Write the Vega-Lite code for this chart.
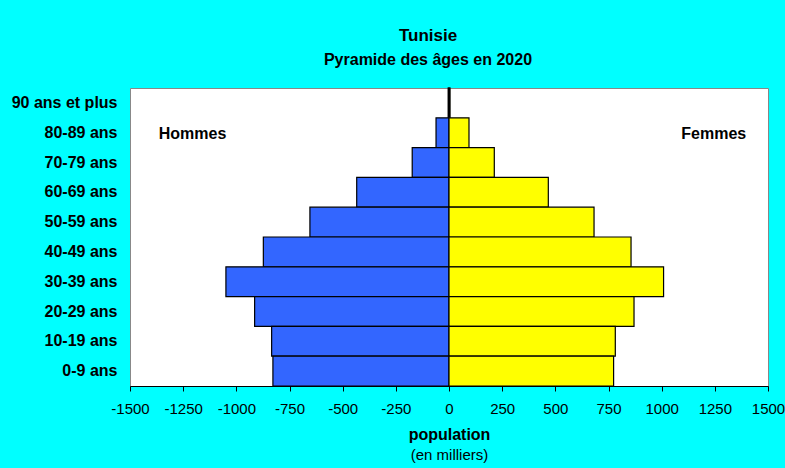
{
  "$schema": "https://vega.github.io/schema/vega-lite/v6.json",
  "width": 638,
  "height": 298,
  "autosize": {"type": "none"},
  "padding": {"left": 130, "top": 88, "right": 17, "bottom": 82},
  "background": "#00FFFF",
  "config": {
    "font": "Liberation Sans",
    "view": {"fill": "white", "stroke": "#888888", "strokeWidth": 1}
  },
  "title": {
    "text": "Tunisie",
    "subtitle": "Pyramide des âges en 2020",
    "anchor": "middle",
    "frame": "group",
    "dx": -21,
    "offset": 18,
    "fontSize": 17,
    "fontWeight": "bold",
    "color": "black",
    "subtitleFontSize": 16,
    "subtitleFontWeight": "bold",
    "subtitleColor": "black",
    "subtitlePadding": 7
  },
  "datasets": {
    "pop": [
      {"age": "90 ans et plus", "sexe": "Hommes", "valeur": -4},
      {"age": "90 ans et plus", "sexe": "Femmes", "valeur": 5},
      {"age": "80-89 ans", "sexe": "Hommes", "valeur": -61},
      {"age": "80-89 ans", "sexe": "Femmes", "valeur": 94},
      {"age": "70-79 ans", "sexe": "Hommes", "valeur": -173},
      {"age": "70-79 ans", "sexe": "Femmes", "valeur": 213},
      {"age": "60-69 ans", "sexe": "Hommes", "valeur": -434},
      {"age": "60-69 ans", "sexe": "Femmes", "valeur": 467},
      {"age": "50-59 ans", "sexe": "Hommes", "valeur": -654},
      {"age": "50-59 ans", "sexe": "Femmes", "valeur": 682},
      {"age": "40-49 ans", "sexe": "Hommes", "valeur": -873},
      {"age": "40-49 ans", "sexe": "Femmes", "valeur": 856},
      {"age": "30-39 ans", "sexe": "Hommes", "valeur": -1049},
      {"age": "30-39 ans", "sexe": "Femmes", "valeur": 1009},
      {"age": "20-29 ans", "sexe": "Hommes", "valeur": -914},
      {"age": "20-29 ans", "sexe": "Femmes", "valeur": 870},
      {"age": "10-19 ans", "sexe": "Hommes", "valeur": -834},
      {"age": "10-19 ans", "sexe": "Femmes", "valeur": 782},
      {"age": "0-9 ans", "sexe": "Hommes", "valeur": -828},
      {"age": "0-9 ans", "sexe": "Femmes", "valeur": 774}
    ],
    "labels": [
      {"age": "80-89 ans", "texte": "Hommes", "pos": -1206},
      {"age": "80-89 ans", "texte": "Femmes", "pos": 1245}
    ]
  },
  "layer": [
    {
      "data": {"name": "pop"},
      "mark": {"type": "bar", "stroke": "black", "strokeWidth": 1.2},
      "encoding": {
        "y": {
          "field": "age",
          "type": "nominal",
          "sort": ["90 ans et plus", "80-89 ans", "70-79 ans", "60-69 ans", "50-59 ans", "40-49 ans", "30-39 ans", "20-29 ans", "10-19 ans", "0-9 ans"],
          "scale": {"paddingInner": 0, "paddingOuter": 0},
          "axis": {
            "title": null,
            "ticks": false,
            "domain": false,
            "labelFontSize": 16,
            "labelFontWeight": "bold",
            "labelColor": "black",
            "labelPadding": 13
          }
        },
        "x": {
          "field": "valeur",
          "type": "quantitative",
          "scale": {"domain": [-1500, 1500], "nice": false, "zero": false},
          "axis": {
            "values": [-1500, -1250, -1000, -750, -500, -250, 0, 250, 500, 750, 1000, 1250, 1500],
            "labelExpr": "datum.value + ''",
            "grid": false,
            "domainColor": "black",
            "tickColor": "black",
            "tickSize": 5,
            "labelFontSize": 15,
            "labelColor": "black",
            "labelPadding": 10,
            "labelFlush": false,
            "labelOverlap": false,
            "title": "population",
            "titleFontSize": 16,
            "titleFontWeight": "bold",
            "titleColor": "black",
            "titlePadding": 10
          }
        },
        "color": {
          "field": "sexe",
          "type": "nominal",
          "scale": {"domain": ["Hommes", "Femmes"], "range": ["#3366FF", "#FFFF00"]},
          "legend": null
        }
      }
    },
    {
      "data": {"name": "labels"},
      "mark": {"type": "text", "fontSize": 16, "fontWeight": "bold", "color": "black", "baseline": "middle", "align": "center", "dy": 1},
      "encoding": {
        "y": {
          "field": "age",
          "type": "nominal",
          "sort": ["90 ans et plus", "80-89 ans", "70-79 ans", "60-69 ans", "50-59 ans", "40-49 ans", "30-39 ans", "20-29 ans", "10-19 ans", "0-9 ans"]
        },
        "x": {
          "field": "pos",
          "type": "quantitative",
          "scale": {"domain": [-1500, 1500], "nice": false, "zero": false},
          "axis": {
            "orient": "bottom",
            "labels": false,
            "ticks": false,
            "domain": false,
            "grid": false,
            "title": "(en milliers)",
            "titleFontSize": 15,
            "titleFontWeight": "normal",
            "titleColor": "black",
            "titlePadding": 61
          }
        },
        "text": {"field": "texte"}
      }
    }
  ],
  "resolve": {"axis": {"x": "independent"}}
}
